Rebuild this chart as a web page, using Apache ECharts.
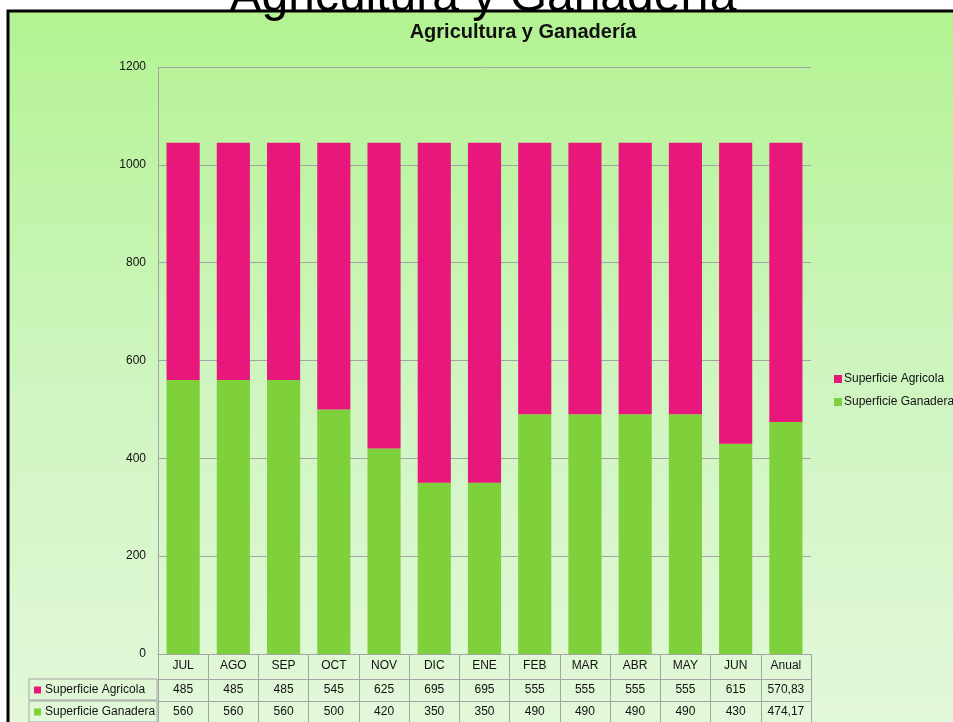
<!DOCTYPE html>
<html><head><meta charset="utf-8">
<script src="https://cdn.jsdelivr.net/npm/echarts@6/dist/echarts.min.js"></script>
<style>html,body{margin:0;padding:0;background:#fff;}#c{width:953px;height:722px;}</style>
</head><body><div id="c"></div>
<script>
const categories = ['JUL','AGO','SEP','OCT','NOV','DIC','ENE','FEB','MAR','ABR','MAY','JUN','Anual'];
const agricola = [485,485,485,545,625,695,695,555,555,555,555,615,570.83];
const ganadera = [560,560,560,500,420,350,350,490,490,490,490,430,474.17];
const seriesNames = ['Superficie Agricola','Superficie Ganadera'];
const yMin = 0, yMax = 1200, yStep = 200;
const titleText = 'Agricultura y Ganadería';

const PINK = '#e8177c', GREEN = '#7fd13b', LINE = '#a4a4a4', TXT = '#111';
const FONT = '"Liberation Sans", Arial, sans-serif';
const fmt = v => String(v).replace('.', ',');

const G = {left:158, right:142, top:67, bottom:68};
const chart = echarts.init(document.getElementById('c'));

function rowName(label, color){
  return {
    name: '{sq|}{t|' + label + '}',
    nameLocation: 'start',
    nameGap: 129,
    nameTruncate: {maxWidth: 123, ellipsis: ''},
    nameTextStyle: {
      align: 'left', verticalAlign: 'top',
      height: 21, padding: [0,0,0,5],
      borderColor: LINE, borderWidth: 1,
      rich: {
        sq: {width: 7, height: 7, backgroundColor: color},
        t: {fontFamily: FONT, fontSize: 12, color: TXT, padding: [0,0,0,4], lineHeight: 22}
      }
    }
  };
}

const rowAxis = (offset, values, color, label, tickLen) => Object.assign({
  type: 'category', gridIndex: 0, position: 'bottom', offset: offset,
  data: categories,
  axisLine: {show: true, lineStyle: {color: LINE, width: 1}},
  axisTick: {show: true, length: tickLen, lineStyle: {color: LINE}},
  axisLabel: {margin: 5, fontFamily: FONT, fontSize: 12, color: TXT,
              formatter: (v, i) => fmt(values[i])},
  splitLine: {show: false}
}, rowName(label, color));

const option = {
  animation: false,
  backgroundColor: 'transparent',
  graphic: [
    {type: 'rect', z: -100, silent: true,
     shape: {x: 8, y: 11, width: 980, height: 740},
     style: {fill: new echarts.graphic.LinearGradient(0,0,0,1,[
       {offset:0, color:'#b3f392'},{offset:0.5, color:'#cff5c0'},{offset:1, color:'#e4f8dc'}]),
       stroke: '#000', lineWidth: 3}},
    {type: 'text', z: 100, silent: true, x: 483, y: -2,
     style: {text: titleText, font: '48px ' + FONT, fill: '#000',
             align: 'center', verticalAlign: 'middle'}}
  ],
  title: {
    text: titleText, left: 518, top: 17, textAlign: 'center',
    textStyle: {fontFamily: FONT, fontSize: 20, fontWeight: 'bold', color: TXT}
  },
  legend: {
    orient: 'vertical', left: 834, top: 373, padding: 0, itemWidth: 8, itemHeight: 8, itemGap: 11,
    icon: 'rect', data: seriesNames,
    textStyle: {fontFamily: FONT, fontSize: 12, color: TXT, padding: [0,0,0,-3]}
  },
  grid: Object.assign({outerBoundsMode: 'none', containLabel: false}, G),
  xAxis: [
    {type: 'category', data: categories, position: 'bottom',
     axisLine: {show: true, lineStyle: {color: LINE}},
     axisTick: {show: true, length: 25, lineStyle: {color: LINE}},
     axisLabel: {margin: 6, fontFamily: FONT, fontSize: 12, color: TXT}},
    rowAxis(25, agricola, PINK, seriesNames[0], 22),
    rowAxis(47, ganadera, GREEN, seriesNames[1], 25)
  ],
  yAxis: {
    type: 'value', min: yMin, max: yMax, interval: yStep,
    axisLine: {show: true, lineStyle: {color: LINE}},
    axisTick: {show: false},
    axisLabel: {margin: 12, fontFamily: FONT, fontSize: 12, color: TXT, formatter: v => String(v)},
    splitLine: {show: true, lineStyle: {color: LINE}}
  },
  series: [
    {name: seriesNames[1], type: 'bar', stack: 'total', data: ganadera,
     barCategoryGap: '34%', itemStyle: {color: GREEN}},
    {name: seriesNames[0], type: 'bar', stack: 'total', data: agricola,
     itemStyle: {color: PINK}}
  ]
};
chart.setOption(option);
</script></body></html>
